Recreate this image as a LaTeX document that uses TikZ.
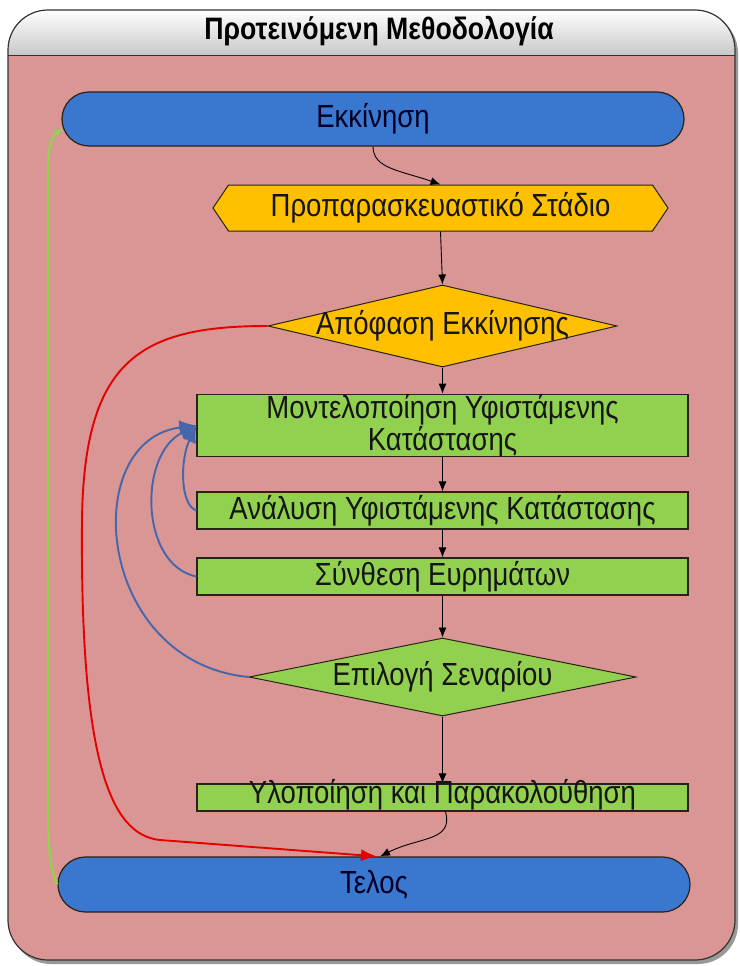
\documentclass[tikz,border=0pt]{standalone}
\usepackage{fontspec}
\setmainfont{Liberation Sans}[FakeStretch=0.86]
\usetikzlibrary{shapes.geometric,shapes.misc,shapes.symbols,arrows.meta,calc}

\definecolor{panel}{HTML}{D99694}
\definecolor{termblue}{HTML}{3A77CF}
\definecolor{stepyellow}{HTML}{FFC000}
\definecolor{stepgreen}{HTML}{92D050}
\definecolor{loopblue}{HTML}{4466AA}
\definecolor{backgreen}{HTML}{8FD44A}
\definecolor{ink}{HTML}{151515}
\definecolor{edge}{HTML}{2A2218}

\tikzset{
  labelfont/.style={font=\fontsize{32}{28}\selectfont, text=ink},
  terminal/.style={rounded rectangle, draw=edge, line width=1.2pt, fill=termblue,
    labelfont, text=black!85!blue, inner sep=0pt},
  prepbox/.style={signal, signal to=west and east, signal pointer angle=112,
    draw=edge, line width=1pt, fill=stepyellow, labelfont, inner sep=0pt},
  decision/.style={diamond, draw=edge, line width=1pt, labelfont, inner sep=0pt},
  stepbox/.style={rectangle, draw=edge, line width=1.2pt, fill=stepgreen,
    labelfont, inner sep=0pt, minimum width=491pt, align=center},
  flow/.style={draw=black, line width=0.9pt, -{Latex[length=10pt,width=8pt]}},
  skip/.style={draw=red!90!black, line width=1.9pt, -{Latex[length=16pt,width=12pt]}},
  iterate/.style={draw=loopblue, line width=1.9pt, -{Latex[length=17pt,width=15pt]}},
  restart/.style={draw=backgreen, line width=2.2pt, -{Latex[length=9pt,width=8pt]}},
}

\begin{document}
\begin{tikzpicture}[x=1pt,y=-1pt]
\useasboundingbox (0,0) rectangle (739,966);

% outer panel with shadow and grey title band
\fill[black!40, rounded corners=40pt] (11,13) rectangle (738,964);
\fill[panel, rounded corners=40pt] (8,10) rectangle (735,960);
\begin{scope}
  \clip[rounded corners=40pt] (8,10) rectangle (735,960);
  \shade[top color=white, bottom color=black!22] (8,10) rectangle (735,56);
\end{scope}
\draw[black!80, line width=1pt] (8,56) -- (735,56);
\draw[black!80, line width=1.2pt, rounded corners=40pt] (8,10) rectangle (735,960);
\node[font=\fontsize{31}{34}\selectfont\bfseries, text=black] (title) at (379,31)
  {Προτεινόμενη Μεθοδολογία};

% flow steps
\node[terminal, minimum width=622pt, minimum height=54pt] (start) at (373,119) {Εκκίνηση};
\node[prepbox, minimum width=455pt, minimum height=46pt] (prep) at (440.5,208)
  {Προπαρασκευαστικό Στάδιο};
\node[decision, fill=stepyellow, minimum width=349pt, minimum height=82pt]
  (launch) at (442.5,326) {\makebox[0pt]{Απόφαση Εκκίνησης}};
\node[stepbox, minimum height=59pt] (model) at (442.5,425.5)
  {Μοντελοποίηση Υφιστάμενης\\Κατάστασης};
\node[stepbox, minimum height=37pt] (analysis) at (442.5,510.5)
  {Ανάλυση Υφιστάμενης Κατάστασης};
\node[stepbox, minimum height=37pt] (synthesis) at (442.5,576.5)
  {Σύνθεση Ευρημάτων};
\node[decision, fill=stepgreen, minimum width=387pt, minimum height=78pt]
  (scenario) at (442.5,677) {\makebox[0pt]{Επιλογή Σεναρίου}};
\node[stepbox, minimum height=27pt, text height=19pt, text depth=8pt] (deploy)
  at (442.5,797.5) {Υλοποίηση και Παρακολούθηση};
\node[terminal, minimum width=632pt, minimum height=55pt] (finish) at (374,884.5) {Τελος};

% main sequence
\draw[flow] (start.south) .. controls +(0,22) and +(-40,-14) .. (prep.north);
\draw[flow] (prep.south) -- (launch.north);
\draw[flow] (launch.south) -- (model.north);
\draw[flow] (model.south) -- (analysis.north);
\draw[flow] (analysis.south) -- (synthesis.north);
\draw[flow] (synthesis.south) -- (scenario.north);
\draw[flow] (scenario.south) -- (deploy.north);
\draw[flow] ($(deploy.south)+(3,0)$) .. controls +(8,30) and +(40,-20) .. ($(finish.north)+(6,0)$);

% skip straight to the end
\draw[skip] (launch.west) .. controls (140,326) and (84,360) .. (82,520)
  .. controls (80,760) and (110,835) .. (160,840) -- ($(finish.north)+(3,0)$);

% feedback loops to the modelling step
\draw[iterate] (analysis.west) .. controls (180,505) and (180,460) .. (model.west);
\draw[iterate] (synthesis.west) .. controls (140,565) and (138,455) .. (model.west);
\draw[iterate] (scenario.west) .. controls (95,662) and (78,440) .. (model.west);

% restart
\draw[restart] (finish.west) .. controls (50,870) and (48,850) .. (48,800)
  -- (48,170) .. controls (48,145) and (52,136) .. ($(start.west)+(1.5,9)$);
\end{tikzpicture}
\end{document}
